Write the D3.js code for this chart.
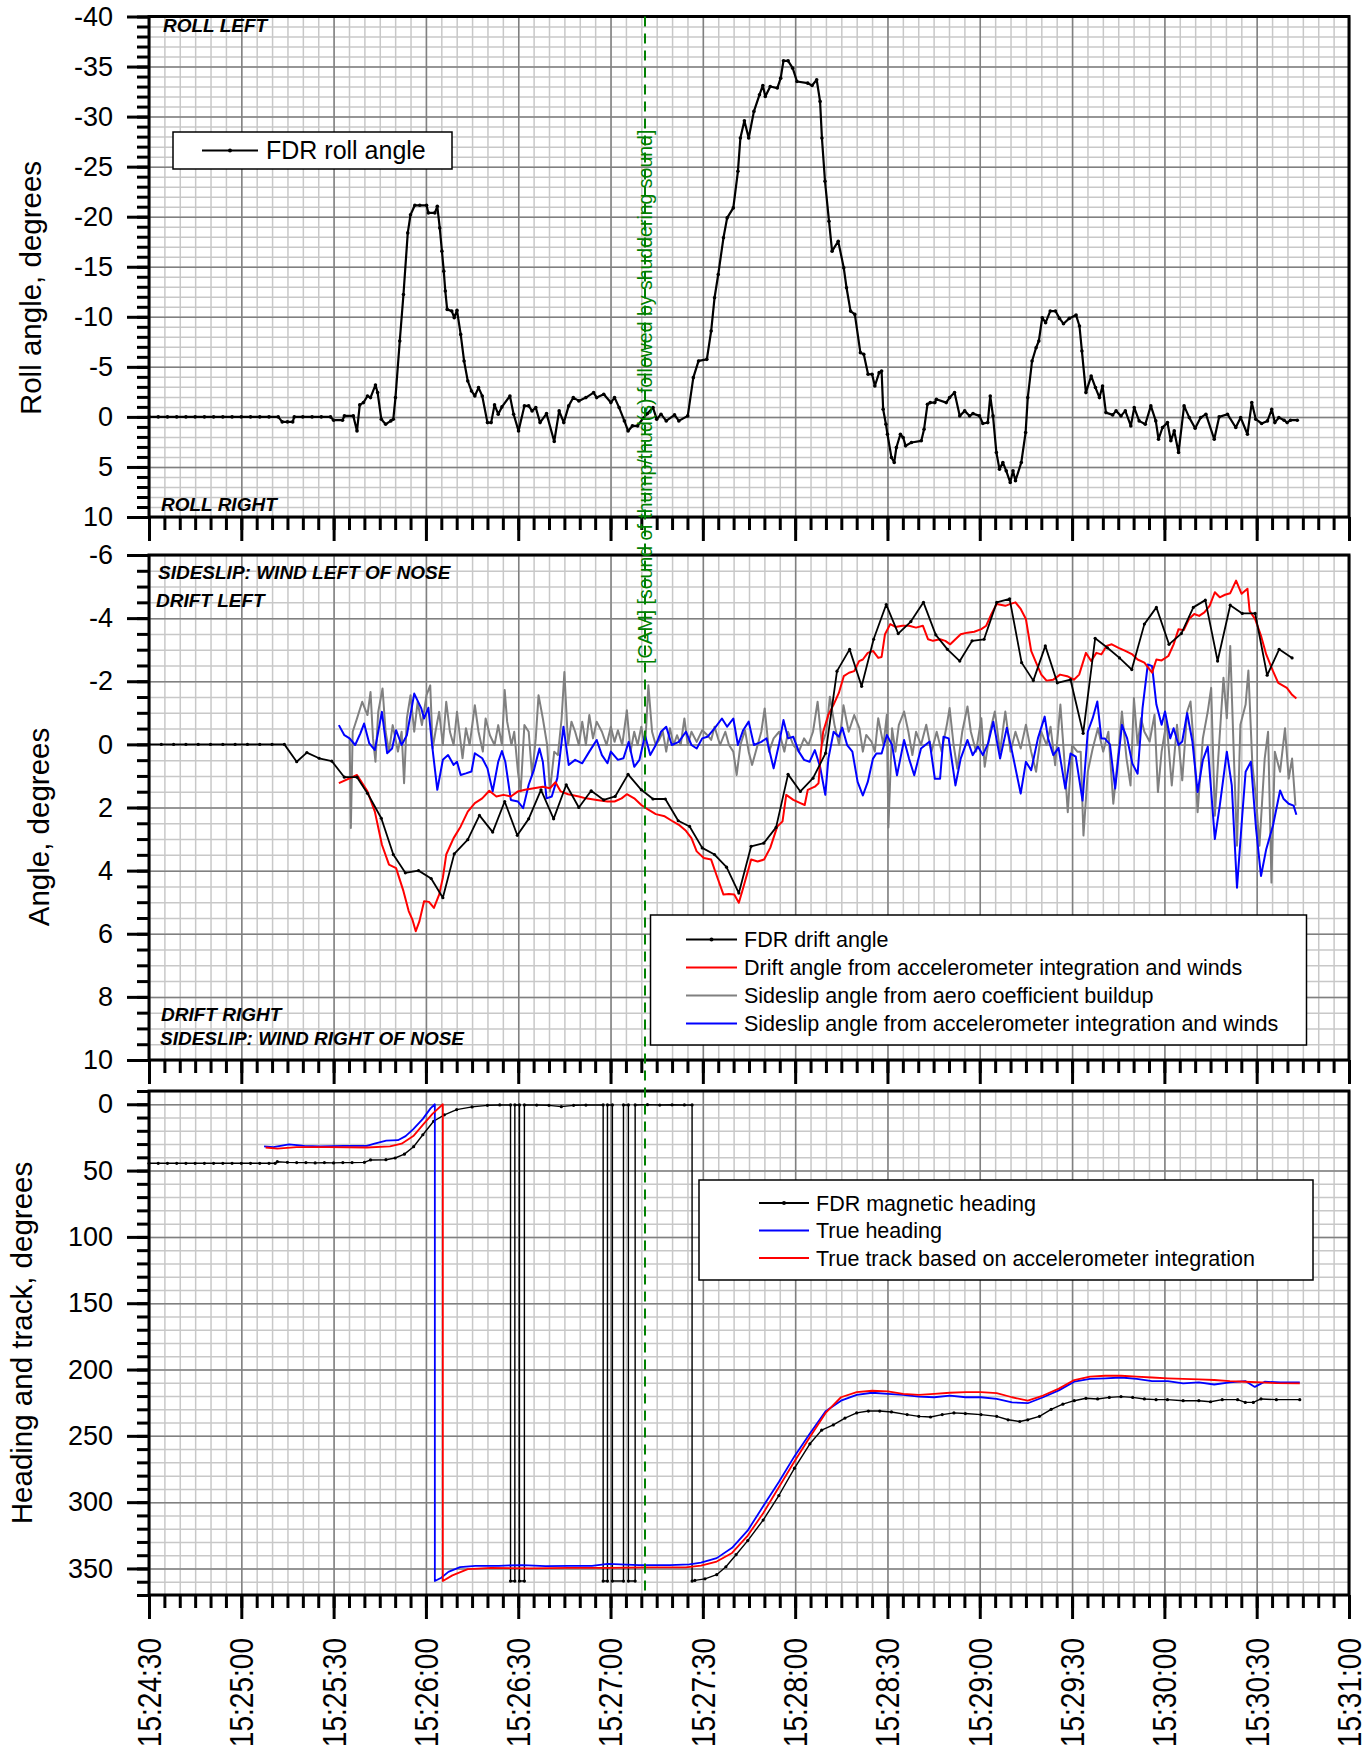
<!DOCTYPE html>
<html>
<head>
<meta charset="utf-8">
<script src="https://d3js.org/d3.v7.min.js"></script>
<style>
  body { margin: 0; background: #fff; }
  svg { display: block; font-family: "Liberation Sans", Arial, sans-serif; }
  .grid-minor line { stroke: #c8c8c8; stroke-width: 1.5px; }
  .grid-major line { stroke: #808080; stroke-width: 1.5px; }
  .grid-minor path, .grid-major path, .ticks path { display: none; }
  .ticks line { stroke: #000; stroke-width: 3px; }
  .ticks text { font-size: 27px; fill: #000; }
  .frame { fill: none; stroke: #000; stroke-width: 3px; }
  .series { fill: none; stroke-linejoin: round; }
  .note { font-size: 19px; font-weight: bold; font-style: italic; }
  .axis-title { font-size: 29.5px; text-anchor: middle; }
  .xlab { font-size: 33px; text-anchor: end; }
  .legend rect { fill: #fff; stroke: #000; stroke-width: 1.5px; }
</style>
</head>
<body>
<svg width="1369" height="1752"></svg>
<script>
// all times are seconds after 15:24:30

// FDR roll angle, degrees (negative = roll left)
var rollAngle = [[0,0],[3,0],[6,0],[9,0],[12,0],[15,0],[18,0],[21,0],[24,0],[27,0],[30,0],[33,0],[36,0],[39,0],[42,0],[43.3,0.5],[45,0.5],[46.7,0.5],[47.2,0],[50,0],[53,0],[56,0],[59,0],
  [60,0.33],[62.9,0.33],[63.5,-0.1],[66.4,-0.1],[67.6,1.4],[68.5,-1.2],[69.7,-1.43],[71,-2.09],[72,-1.93],[73.6,-3.19],[74.3,-2.43],[75.5,0.23],[76.9,0.73],[78.6,0.4],[79.4,0.23],[80.1,-1.93],[81.5,-7.58],[82.7,-12.23],[84.1,-18.38],[85,-20.2],[86.4,-21.14],[88,-21.14],[90.2,-21.14],[90.8,-20.38],[92.9,-20.38],[93.7,-21.04],[94.5,-18.88],[95.2,-16.56],[95.8,-14.56],[96.3,-12.57],[96.9,-10.74],[98.4,-10.57],[99.2,-9.91],[100.1,-10.64],[101.3,-8.24],[102.4,-5.59],[103.6,-3.59],[104.8,-2.59],[105.9,-2.09],[107.1,-2.93],[108.3,-2.09],[110,0.57],[111.2,0.57],[112.3,-1.2],[113.5,-0.27],[114.7,-1],[117.3,-2.09],[118.5,-0.27],[120.1,1.4],[122,-1.1],[123.4,-1.1],[124.5,-0.6],[125.7,-0.93],[127.1,0.57],[129.2,-0.33],[131.7,2.46],[133.3,-0.6],[134.8,0.57],[136.4,-1.1],[137.9,-1.93],[139.7,-1.6],[142,-1.93],[144.5,-2.43],[145.5,-1.93],[147.8,-2.26],[150.1,-1.43],[151.3,-1.93],[152.8,-0.93],[154.5,0.4],[155.7,1.4],[157.1,0.9],[158.8,0.9],[160.6,0.13],[162,-0.33],[163.8,-0.93],[165,0.23],[166.4,-0.27],[168.1,0.4],[170.8,-0.2],[172.2,0.4],[175.1,-0.1],[176.9,-3.92],[178.6,-5.59],[181.3,-5.75],[182.7,-8.58],[183.8,-11.9],[185,-14.23],[186.7,-17.89],[187.9,-19.88],[189.9,-20.88],[191.4,-24.53],[192.2,-27.86],[193.5,-29.59],[194.9,-27.86],[196.6,-30.52],[198.4,-32.18],[199.5,-33.11],[200.3,-32.01],[201.9,-33.01],[204.2,-32.85],[205.3,-33.84],[206.2,-35.57],[207.7,-35.57],[209.2,-34.84],[210.6,-33.51],[214.1,-33.34],[215.5,-33.11],[217,-33.68],[218.1,-31.52],[218.7,-27.86],[219.7,-23.54],[221,-19.55],[222,-16.56],[224,-17.55],[225.8,-14.89],[226.7,-12.9],[228,-10.57],[229.4,-10.24],[231.2,-6.42],[232.3,-6.25],[233.7,-4.26],[235,-4.26],[235.9,-3.09],[237.3,-4.42],[238.1,-4.59],[238.6,-0.76],[239.5,0.73],[240,1.73],[241.3,4.06],[242.2,4.55],[242.9,3.06],[244.2,1.73],[245.1,2.06],[245.9,2.89],[247.8,2.56],[251,2.39],[251.9,1.23],[253,-1.26],[253.9,-1.43],[255.4,-1.43],[255.9,-1.76],[259.1,-1.43],[260.2,-1.93],[261.8,-2.43],[263.5,-0.1],[265.1,-0.6],[266.7,-0.1],[267.8,-0.33],[269.9,-0.1],[271,0.66],[272.6,0.57],[273.4,-2.09],[274.3,-0.1],[275.4,3.56],[276.4,5.22],[277.5,4.55],[278.6,5.39],[279.9,6.55],[280.8,5.39],[281.6,6.38],[283.5,4.55],[284.9,1.56],[285.6,-1.93],[287,-5.59],[288.3,-6.91],[289.2,-7.58],[290.3,-9.91],[291.4,-9.41],[292.9,-10.57],[294.6,-10.57],[295.9,-9.84],[297.2,-9.31],[299.1,-9.84],[301.3,-10.17],[302.4,-9.08],[303.2,-6.58],[304.5,-2.43],[306.2,-4.09],[307.6,-2.93],[308.9,-1.93],[309.9,-3.09],[311,-0.43],[313.2,-0.2],[314.3,-0.6],[315.9,-0.1],[317.3,-0.6],[319.1,0.9],[320.2,-0.93],[321.8,0.4],[323.8,0.73],[325.6,-1.1],[327.2,0.4],[328.1,2.23],[329.4,1.06],[331,0.57],[332.1,2.39],[333.2,1.4],[334.6,3.56],[336.4,-1.1],[338.1,0.07],[340,1.13],[341.8,0.07],[343.5,-0.27],[346.2,2.23],[347.8,0],[350.5,-0.27],[353.2,1.06],[354.8,0.07],[357,1.73],[358.4,-1.43],[359.7,0.23],[361.6,0.66],[363.5,0.4],[364.9,-0.76],[365.9,0.57],[367.2,0.07],[368.9,0.33],[369.9,0.57],[371,0.33],[373.2,0.33]];

// FDR drift angle, degrees
var fdrDrift = [[0,0],[4,0],[8,0],[12,0],[16,0],[20,0],[24,0],[28,0],[32,0],[36,0],[40,0],[44,0],[48,0.55],[51.3,0.26],[55.3,0.44],[59.4,0.53],[63.5,1.04],[67.6,1.04],[71,1.55],[75.5,2.34],[79.4,3.49],[83.3,4.07],[87.6,4],[91.7,4.25],[95.5,4.86],[99.2,3.47],[103.6,3.02],[107.4,2.25],[111.7,2.78],[115.6,1.81],[119.7,2.88],[123.4,2.36],[127.4,1.44],[131.5,2.36],[135.6,1.28],[139.7,2],[143.7,1.47],[147.8,1.76],[151.5,1.65],[155.7,0.95],[160,1.44],[163.8,1.73],[167.8,1.73],[172,2.42],[175.7,2.6],[179.8,3.28],[183.8,3.49],[187.7,3.89],[191.7,4.71],[195.7,3.23],[199.8,3.13],[203.8,2.63],[207.7,0.95],[211.7,1.49],[215.8,1.07],[219.9,0.28],[223.6,-2.32],[227.7,-3.01],[231.6,-1.84],[235.5,-3.33],[239.6,-4.43],[243.5,-3.51],[247.6,-3.89],[251.7,-4.5],[255.7,-3.47],[259.5,-3.01],[263.5,-2.64],[267.5,-3.28],[271.4,-3.33],[275.5,-4.5],[279.7,-4.61],[283.6,-2.59],[287.4,-2.02],[291.3,-3.12],[295.2,-1.95],[299.5,-2.05],[303.6,-0.35],[307.5,-3.36],[311.5,-3.06],[315.4,-2.74],[319.4,-2.37],[323.5,-3.81],[327.4,-4.34],[331.5,-3.17],[335.5,-3.51],[339.4,-4.34],[343.3,-4.57],[347.3,-2.64],[351.4,-4.41],[355.3,-4.15],[359.5,-4.15],[363.4,-2.19],[367.3,-3.01],[371.5,-2.74]];

// drift angle from accelerometer integration and winds
var accDrift = [[61.7,1.23],[67.6,0.97],[71,1.49],[73.4,2.13],[75.7,3.18],[78,3.81],[80.3,3.92],[82.7,4.65],[84.4,5.28],[85.6,5.55],[86.7,5.92],[87.9,5.6],[89.4,4.97],[91,4.99],[92.6,5.18],[94.3,4.76],[95.5,4.23],[96.6,3.49],[99,2.97],[101.3,2.6],[103.6,2.13],[105.9,1.86],[108.3,1.71],[110.6,1.47],[112.9,1.65],[115.2,1.6],[117.6,1.65],[119.9,1.49],[122.2,1.44],[125.1,1.39],[128,1.34],[130.3,1.39],[132.1,1.2],[133.8,1.49],[136.2,1.58],[139.7,1.65],[142,1.71],[145.5,1.76],[149,1.81],[151.3,1.81],[153.6,1.71],[155.3,1.58],[157.7,1.71],[160,1.92],[162.3,2.07],[164.7,2.21],[167.6,2.28],[169.9,2.42],[172.2,2.55],[174.5,2.74],[176.3,2.97],[178,3.39],[180.3,3.6],[182.7,3.65],[184.4,4.13],[186.7,4.76],[188.5,4.74],[190.2,4.76],[191.7,5.02],[193.1,4.55],[195.7,3.65],[197.8,3.71],[199.9,3.65],[201.9,3.28],[204.2,2.6],[205.9,2.44],[207.1,1.6],[209.4,1.76],[211.7,1.86],[213.1,1.92],[214.1,1.44],[216.4,1.34],[217.6,1.23],[218.3,0.3],[219.1,-0.4],[220.8,-0.94],[222.5,-1.26],[224.2,-1.63],[225.8,-2.16],[227.5,-2.27],[229.2,-2.32],[230.8,-2.64],[232,-2.69],[233.6,-2.9],[235.3,-2.96],[237,-2.74],[238.1,-2.77],[239.2,-3.49],[240.9,-3.81],[242.6,-3.72],[244.8,-3.76],[247,-3.76],[249.3,-3.7],[251.5,-3.76],[253.2,-3.33],[254.8,-3.28],[257.1,-3.33],[258.8,-3.28],[260.4,-3.17],[262.1,-3.33],[263.8,-3.49],[266,-3.54],[268.2,-3.57],[270.5,-3.65],[272.1,-3.76],[273.8,-4.13],[275.5,-4.45],[278.3,-4.39],[280,-4.45],[281.6,-4.5],[283.3,-4.29],[285,-3.97],[286.7,-2.96],[288.3,-2.59],[290,-2.21],[291.7,-2.02],[293.9,-2.05],[296.1,-2.21],[298.4,-2.16],[300.6,-2.05],[302.3,-2.21],[304.5,-2.9],[306.2,-2.64],[307.9,-2.9],[309.5,-2.85],[311.2,-3.12],[312.9,-3.17],[315.1,-3.06],[317.3,-2.96],[319.6,-2.85],[321.3,-2.69],[323.5,-2.59],[326,-2.27],[327.4,-2.69],[329.1,-2.66],[331.3,-2.8],[333,-3.17],[334.6,-3.65],[336.3,-3.62],[338,-3.97],[339.7,-4.13],[341.3,-4.07],[343,-4.18],[344.7,-4.39],[346.4,-4.82],[348,-4.66],[349.7,-4.74],[351.4,-4.79],[353.3,-5.19],[355.1,-4.77],[357,-4.93],[357.7,-4.23],[359.5,-3.97],[361.4,-3.44],[363.1,-2.85],[365.3,-2.32],[367,-1.95],[369.8,-1.79],[371.5,-1.57],[372.9,-1.45]];

// sideslip angle from aero coefficient buildup
var aeroSlip = [[65.2,-0.19],[65.6,2.65],[66.2,-0.4],[67.6,-0.82],[69.3,-1.35],[71,-0.93],[72,-1.66],[72.8,-0.19],[73.6,0.55],[74.5,-1.03],[75.9,-1.77],[76.9,-0.4],[78,0.23],[79.2,-0.61],[80.9,0.23],[82.1,-0.4],[82.9,1.23],[83.8,-0.82],[85,-1.56],[86.2,-0.4],[87.3,-1.35],[88.7,-0.61],[90.2,-1.56],[91.4,-1.87],[92.2,0.13],[93.1,-0.4],[94.3,-1.03],[95.5,0.02],[96.6,-1.35],[97.8,-0.4],[99,0.02],[100.1,-1.03],[101.9,0.44],[103,-0.51],[104.2,0.02],[105.9,-1.24],[107.1,-0.4],[108.5,0.23],[109.4,-0.82],[110.8,-0.29],[112.3,0.02],[113.5,-0.61],[114.7,0.02],[115.6,-1.72],[116.4,-0.72],[117.8,0.02],[118.7,-0.4],[119.9,0.86],[120.8,1.49],[122,-0.61],[123.4,-0.4],[124.5,0.97],[125.7,-0.19],[126.6,-1.56],[128,-0.82],[129.4,0.02],[130.3,1.49],[131.7,0.23],[132.9,0.34],[134.1,-0.82],[135,-2.29],[136.2,0.02],[137.3,-0.72],[138.5,-0.4],[139.7,0.02],[140.8,-0.72],[142,0.02],[143.1,-0.93],[144.3,-0.19],[145.5,-0.72],[147.2,-0.4],[148.7,0.02],[150.1,-0.56],[151.3,-0.08],[152.4,-0.45],[153.8,0.02],[155.3,-1.08],[156.5,0.23],[157.7,-0.4],[158.8,0.02],[160,-0.56],[161.2,0.13],[162.3,-1.87],[163.5,-0.4],[164.7,0.02],[165.8,-0.14],[167,-0.4],[168.1,0.23],[169.3,-0.51],[170.5,0.02],[171.6,-0.29],[172.8,0.02],[174,-0.82],[175.1,0.02],[176.3,-0.4],[178,-0.08],[179.8,-0.45],[181.5,-0.29],[182.7,-0.14],[183.8,-0.56],[185.6,0.02],[187.3,-0.4],[188.5,0.02],[189.9,0.23],[191,0.97],[192.2,0.02],[193.7,-0.45],[194.9,0.23],[196,0.65],[197.8,0.02],[199,-0.4],[200.1,-1.14],[201.5,0.23],[203,-0.19],[204.8,-0.4],[206.5,0.23],[207.7,-0.4],[209.4,0.02],[211.2,0.23],[212.9,-0.19],[214.3,0.02],[215.8,-0.4],[217.3,-1.35],[218.7,0.02],[220.1,-0.4],[221.3,-1.51],[222.8,-0.61],[224.3,0.02],[225.7,-1.24],[227.4,-0.4],[229.2,-0.93],[230.9,-0.51],[232,0.23],[233.1,-0.3],[234.8,-0.09],[235.9,0.23],[237,-0.83],[238.7,0.02],[239.8,-0.94],[240.3,2.63],[241.5,-0.51],[242.6,0.23],[243.7,-0.62],[245.4,-1.04],[246.8,-0.4],[248.1,0.34],[249.3,-0.4],[250.9,0.02],[252.6,-0.62],[254.3,0.23],[256,-0.4],[257.6,0.23],[259.3,-0.62],[260.2,-1.15],[261.5,0.02],[262.7,0.77],[264.3,-0.4],[266,-1.2],[267.1,-0.4],[268.8,0.23],[270.5,-0.83],[271.6,0.71],[273.3,-0.4],[274.9,-1.04],[276.6,0.23],[278.3,-1.04],[280,0.23],[281.6,-0.4],[283.3,0.13],[285,-0.62],[286.7,0.23],[288.3,0.87],[290,-0.4],[291.7,0.02],[293,-0.56],[294.5,0.66],[296.2,-1.26],[297.3,0.23],[298.6,2.15],[300,0.02],[301.7,0.23],[302.8,0.23],[303.7,2.89],[305.1,0.87],[306.7,0.13],[308.4,-0.51],[310.1,0.23],[311.8,-0.4],[313.4,1.88],[315.1,0.23],[316.2,-1.04],[317.7,0.45],[319,1.3],[320.1,-1.47],[321.3,0.02],[322.4,-0.83],[323.5,-0.4],[325.2,-0.09],[326.8,-0.94],[327.9,1.51],[329.1,0.23],[330.7,-0.72],[332.4,1.3],[334.1,-0.62],[335.8,1.14],[337.4,-1.04],[338.5,-1.36],[339.7,0.23],[340.8,2.15],[342.5,-0.19],[344.1,-1.04],[345.2,-1.79],[346.4,2.26],[347.5,0.45],[349.2,-2.11],[350.3,-0.83],[351.4,-3.12],[352.5,0.13],[353.6,3.21],[354.7,-0.62],[356.4,-1.26],[357.3,-2.34],[358.6,0.66],[359.8,1.72],[360.9,3.21],[362.6,0.45],[363.7,-0.4],[364.8,4.38],[365.9,0.23],[367.6,0.87],[369.2,-0.51],[370.4,1.09],[371.5,0.45],[372.6,1.94]];

// sideslip angle from accelerometer integration and winds
var accSlip = [[61.7,-0.61],[63.5,-0.29],[65.2,-0.19],[67,0.02],[68.7,-0.35],[69.9,-0.66],[71.6,-0.03],[73.4,0.18],[75.7,-1.03],[77.4,0.28],[79,0.13],[80.3,-0.45],[82.1,0.02],[83.8,-0.29],[86.2,-1.61],[88.5,-1.14],[89.4,-0.82],[90.8,-1.16],[92,0.02],[93.7,1.44],[95.5,0.49],[97.2,0.34],[99,0.65],[100.1,0.55],[101.3,0.97],[103,0.92],[104.8,0.86],[105.9,0.28],[108.3,0.44],[110,0.76],[111.7,1.49],[113.5,0.55],[114.7,0.21],[115.8,0.55],[117.6,1.76],[119.9,1.81],[121.6,2.02],[123.4,1.28],[125.1,0.81],[126.9,0.13],[128,0.55],[129.2,1.71],[130.9,1.65],[132.7,1.07],[134.7,-0.56],[136.4,0.65],[138.5,0.49],[140.8,0.6],[143.1,0.23],[145.5,-0.14],[147.2,0.34],[149,0.6],[150.1,0.23],[152.4,0.49],[154.2,0.44],[155.9,-0.08],[157.7,0.71],[159.4,0.49],[161.2,-0.29],[162.9,0.34],[164.7,0.02],[166.4,-0.4],[168.1,-0.56],[169.9,0.02],[172.2,-0.08],[174.5,-0.4],[176.3,0.02],[178,0.13],[179.8,-0.19],[181.5,-0.24],[183.8,-0.51],[186.2,-0.82],[187.9,-0.56],[189.9,-0.82],[191.4,0.02],[193.1,-0.45],[194.9,-0.72],[196.6,0.02],[199,-0.08],[200.7,-0.19],[203,0.76],[204.8,-0.03],[206.2,-0.77],[207.7,-0.19],[209.4,-0.24],[211.2,0.23],[212.9,0.49],[214.7,0.55],[216.4,0.18],[218.1,0.71],[219.8,1.6],[220.8,0.45],[222.5,-0.4],[224.2,-0.24],[225.3,-0.53],[226.9,0.02],[228.6,0.23],[230.3,1.19],[232,1.62],[233.6,1.19],[235.3,0.45],[236.4,0.29],[238.1,0.29],[239.8,-0.3],[241.5,0.02],[243.1,0.98],[245.4,-0.14],[247,0.45],[248.7,0.98],[250.9,0.13],[253.7,-0.09],[255.4,1.09],[257.1,1.09],[258.2,-0.24],[259.9,-0.19],[262.1,1.3],[263.8,0.45],[266,-0.14],[267.7,0.34],[269.4,0.07],[271,0.34],[272.7,-0.03],[274.4,-0.72],[276.6,0.45],[278.8,-0.53],[280.5,0.23],[283.3,1.56],[285,0.55],[286.7,0.82],[288.9,-0.19],[291.1,-0.88],[292.2,-0.19],[293.9,0.34],[295.6,0.11],[297.8,1.4],[299.5,0.29],[301.2,0.39],[303.4,1.78],[305.1,-0.4],[306.7,-0.83],[308.2,-1.36],[309.5,-0.19],[310.6,-0.19],[312.3,0],[314,1.4],[316.2,-0.62],[317.9,-0.19],[319.6,0.61],[321.3,0.93],[322.9,-1.15],[324.6,-2.53],[326,-2.48],[327.4,-1.26],[329.1,-0.62],[330.2,-1.04],[331.9,-0.19],[333,-0.51],[334.6,0.02],[335.8,-0.09],[337.4,-0.99],[339.1,-0.09],[340.8,1.51],[342.5,0.5],[344.1,0.07],[346.4,3],[348,1.94],[350.3,0.23],[351.9,1.3],[353.6,4.54],[355.3,2.26],[356.4,0.87],[358.1,0.55],[359.8,2.68],[361.4,4.17],[363.1,3.32],[365.3,2.57],[367.6,1.46],[368.7,1.72],[370.4,1.88],[372,1.94],[372.9,2.23]];

// FDR magnetic heading, degrees (wraps between 0 and 360)
var magHeading = [[0,44.5],[3,44.5],[6,44.5],[9,44.5],[12,44.5],[15,44.5],[18,44.5],[21,44.5],[24,44.5],[27,44.5],[30,44.5],[33,44.5],[36,44.5],[39,44.5],[41,44.5],[41.7,43.3],[45,43.8],[48,44],[51,44],[54,44.2],[57,44],[60,44.2],[63,44],[66,44],[70,43.8],[72,42],[77,41.8],[80,40.5],[83,37.6],[86,32],[89,23],[92.5,12.8],[96,8],[100,4],[105,2],[110,0.8],[114,0.5],
  [117.5,0.5],[117.5,359.5],[118.9,359.5],[118.9,0.5],[120.4,0.5],[120.4,359.5],[122,359.5],[122,0.5],[126,0.6],[130,0.8],[134,1.8],[138,0.8],[142,0.6],
  [147.6,0.5],[147.6,359.5],[149,359.5],[149,0.5],[150.6,0.5],[150.6,359.5],[154.2,359.5],[154.2,0.5],[155.8,0.5],[155.8,359.5],[158,359.5],[158,0.5],[162,0.3],[166,0.6],[170,0.4],[174,0.5],[176.5,0.5],
  [176.5,359.5],[177.4,359],[180.7,357.8],[184.5,354.7],[187.5,348.7],[190.8,339.6],[194.6,329],[199.6,313.5],[204.7,295],[209.8,274.4],[214.8,256],[218.6,245.7],[222.4,241.8],[226.2,236.6],[230,232.7],[233.8,231.3],[237.5,231.3],[241.3,232],[246.4,234],[250.2,235.3],[254,235.8],[257.8,234],[261.6,232.7],[265.3,233.2],[270.4,234],[275.5,235.3],[279.2,237.9],[283,239.2],[285.6,237.9],[289.4,235.3],[293.2,230],[297,226.1],[300.7,223.5],[304.5,221.7],[308.3,222.2],[312.1,221],[315.9,220.4],[319.7,221],[323.5,222.2],[327.3,222.7],[331,222.7],[336.1,223.5],[341.2,223.5],[345,224.3],[348.8,222.7],[353.8,222.7],[356.3,224.8],[358.9,224.8],[361.4,222.2],[366.4,222.7],[374,222.7]];

// true heading
var trueHeading = [[37.4,31.8],[40.4,32.3],[45.5,30.3],[50.5,31.3],[55.6,31.8],[63.2,31.3],[70.8,31.3],[73.3,29.7],[77.1,27.4],[80.9,27.1],[83.4,24],[85.9,18.8],[89,11],[91.5,3.1],[92.9,0],[92.9,359.5],[95,357],[97.3,352.6],[101.1,349],[106.1,348],[113.7,348],[121.3,347.4],[128.9,348.2],[136.5,348],[144,348],[149.1,346.6],[159.2,347.4],[169.3,347.4],[175.6,346.9],[179.4,345.6],[184.5,342.2],[189.5,334.4],[194.6,321.3],[199.6,303.1],[204.7,284.8],[209.8,265.3],[214.8,248.3],[219.9,231.4],[224.9,223.5],[230,219.1],[235,217.5],[240.1,218.3],[245.1,219.1],[250.2,220.4],[255.2,220.9],[260.3,219.6],[265.4,220.9],[270.4,220.9],[275.5,222.2],[280.5,224.8],[285.6,225.4],[290.6,220.9],[295.7,215.7],[300.7,209.2],[305.8,207.1],[310.8,206.6],[315.9,206],[321,207.1],[326,208.7],[331.1,208.7],[336.1,210.5],[341.2,209.7],[346.2,211.3],[351.3,209.7],[356.3,208.7],[359.4,213.1],[362.6,209.2],[367.7,209.7],[374,209.7]];

// true track based on accelerometer integration
var trueTrack = [[37.9,32.6],[41.7,33.4],[48,32.3],[58.1,32.3],[70.8,32.6],[78.3,31.8],[82.1,29.7],[85.9,24],[89,15.6],[92.2,7],[95.5,0],[95.5,359.5],[98.6,355.2],[103.6,350.5],[111.2,349.5],[123.8,350],[136.5,349.5],[149.1,349.5],[161.7,349.2],[174.4,349.2],[179.4,347.9],[184.5,344.8],[189.5,338.3],[194.6,325.2],[199.6,308.3],[204.7,288.7],[209.8,269.2],[214.8,250.9],[219.9,232.7],[224.9,220.9],[230,217],[235,216],[240.1,216.5],[245.1,218.3],[250.2,219.1],[255.2,218.3],[260.3,217.5],[265.4,217],[270.4,217],[275.5,217.8],[280.5,220.9],[285.6,223.5],[290.6,219.6],[295.7,214.4],[300.7,207.9],[305.8,205.3],[310.8,204.7],[315.9,204.7],[321,205.3],[326,206],[331.1,206.6],[336.1,207.1],[341.2,207.4],[346.2,207.9],[351.3,208.7],[356.3,209.2],[361.4,209.7],[366.4,210.2],[374,210.5]];

var camTime = 161.2;
var camText = "[CAM] [sound of thump/thud(s) followed by shuddering sound]";

var svg = d3.select("svg"),
    left = 149,
    right = 1349;

var t0 = new Date(2000, 0, 1, 15, 24, 30);
function at(s) { return new Date(+t0 + s * 1000); }

var x = d3.scaleTime().domain([at(0), at(390)]).range([left, right]);

var panels = [
  {top: 16.5, bottom: 517, domain: [-40, 10], labels: d3.range(-40, 11, 5), minor: 1,
   title: "Roll angle, degrees", titleX: 31, titleY: 288},
  {top: 555, bottom: 1060, domain: [-6, 10], labels: d3.range(-6, 11, 2), minor: 0.5,
   title: "Angle, degrees", titleX: 39, titleY: 827},
  {top: 1091, bottom: 1595, domain: [-10, 370], labels: d3.range(0, 351, 50), minor: 10,
   title: "Heading and track, degrees", titleX: 22, titleY: 1343}
];

// PANELS ------------------------
panels.forEach(function(p) {
  var h = p.bottom - p.top;
  var y = p.y = d3.scaleLinear().domain(p.domain).range([p.top, p.bottom]);
  var g = p.g = svg.append("g");

  // grid
  g.append("g").attr("class", "grid-minor")
      .attr("transform", "translate(0," + p.bottom + ")")
      .call(d3.axisBottom(x).ticks(d3.timeSecond.every(5)).tickSize(-h).tickFormat(""));
  g.append("g").attr("class", "grid-minor")
      .attr("transform", "translate(" + left + ",0)")
      .call(d3.axisLeft(y).tickValues(d3.range(p.domain[0], p.domain[1] + 1e-6, p.minor))
        .tickSize(-(right - left)).tickFormat(""));
  g.append("g").attr("class", "grid-major")
      .attr("transform", "translate(0," + p.bottom + ")")
      .call(d3.axisBottom(x).ticks(d3.timeSecond.every(30)).tickSize(-h).tickFormat(""));
  g.append("g").attr("class", "grid-major")
      .attr("transform", "translate(" + left + ",0)")
      .call(d3.axisLeft(y).tickValues(p.labels).tickSize(-(right - left)).tickFormat(""));

  p.lines = g.append("g");

  // frame
  g.append("rect").attr("class", "frame")
      .attr("x", left).attr("y", p.top)
      .attr("width", right - left).attr("height", h);

  // ticks, pointing out
  g.append("g").attr("class", "ticks")
      .attr("transform", "translate(" + left + ",0)")
      .call(d3.axisLeft(y).tickValues(d3.range(p.domain[0], p.domain[1] + 1e-6, p.minor))
        .tickSize(12).tickFormat(""));
  g.append("g").attr("class", "ticks")
      .attr("transform", "translate(" + left + ",0)")
      .call(d3.axisLeft(y).tickValues(p.labels).tickSize(22).tickPadding(14)
        .tickFormat(function(d) { return String(d); }));
  g.append("g").attr("class", "ticks")
      .attr("transform", "translate(0," + p.bottom + ")")
      .call(d3.axisBottom(x).ticks(d3.timeSecond.every(5)).tickSize(13).tickFormat(""));
  g.append("g").attr("class", "ticks")
      .attr("transform", "translate(0," + p.bottom + ")")
      .call(d3.axisBottom(x).ticks(d3.timeSecond.every(30)).tickSize(24).tickFormat(""));

  // axis title
  svg.append("text").attr("class", "axis-title")
      .attr("transform", "translate(" + p.titleX + "," + p.titleY + ") rotate(-90)")
      .attr("dy", "0.35em")
      .text(p.title);
});

// x tick labels under the last panel (tall glyphs, squeezed along the text)
svg.selectAll(".xlab")
    .data(x.ticks(d3.timeSecond.every(30)))
  .enter().append("text")
    .attr("class", "xlab")
    .attr("transform", function(d) { return "translate(" + x(d) + ",1638) rotate(-90) scale(0.85,1)"; })
    .attr("dy", "0.36em")
    .text(d3.timeFormat("%H:%M:%S"));

// SERIES ------------------------
function drawSeries(p, data, color, width, dots) {
  var line = d3.line()
      .x(function(d) { return x(at(d[0])); })
      .y(function(d) { return p.y(d[1]); });
  p.lines.append("path")
      .datum(data)
      .attr("class", "series")
      .attr("stroke", color)
      .attr("stroke-width", width)
      .attr("d", line);
  if (dots) {
    p.lines.selectAll(null)
        .data(data)
      .enter().append("circle")
        .attr("cx", function(d) { return x(at(d[0])); })
        .attr("cy", function(d) { return p.y(d[1]); })
        .attr("r", dots)
        .attr("fill", color);
  }
}

drawSeries(panels[0], rollAngle, "#000", 2.2, 1.8);

drawSeries(panels[1], aeroSlip, "#808080", 2, 0);
drawSeries(panels[1], accSlip, "#0000ff", 2, 0);
drawSeries(panels[1], accDrift, "#ff0000", 2, 0);
drawSeries(panels[1], fdrDrift, "#000", 1.8, 1.6);

drawSeries(panels[2], magHeading, "#000", 1.4, 1.6);
drawSeries(panels[2], trueHeading, "#0000ff", 1.8, 0);
drawSeries(panels[2], trueTrack, "#ff0000", 1.8, 0);

// italic side notes
var notes = [
  {text: "ROLL LEFT", dx: 14, y: 32},
  {text: "ROLL RIGHT", dx: 12, y: 511},
  {text: "SIDESLIP: WIND LEFT OF NOSE", dx: 9, y: 579},
  {text: "DRIFT LEFT", dx: 7, y: 607},
  {text: "DRIFT RIGHT", dx: 12, y: 1021},
  {text: "SIDESLIP: WIND RIGHT OF NOSE", dx: 11, y: 1045}
];
svg.selectAll(".note")
    .data(notes)
  .enter().append("text")
    .attr("class", "note")
    .attr("x", function(d) { return left + d.dx; })
    .attr("y", function(d) { return d.y; })
    .text(function(d) { return d.text; });

// CAM marker across all panels
var camX = x(at(camTime));
svg.append("line")
    .attr("x1", camX).attr("x2", camX)
    .attr("y1", panels[0].top).attr("y2", panels[2].bottom)
    .attr("stroke", "#008000")
    .attr("stroke-width", 2)
    .attr("stroke-dasharray", "10,7");
svg.append("text")
    .attr("transform", "translate(" + camX + ",664) rotate(-90)")
    .attr("dy", "0.35em")
    .attr("fill", "#008000")
    .style("font-size", "19.5px")
    .text(camText);

// LEGENDS ------------------------
function legend(box, rows, size) {
  var g = svg.append("g").attr("class", "legend");
  g.append("rect").attr("x", box.x).attr("y", box.y).attr("width", box.w).attr("height", box.h);
  rows.forEach(function(r) {
    g.append("line")
        .attr("x1", box.lx0).attr("x2", box.lx1)
        .attr("y1", r.y).attr("y2", r.y)
        .attr("stroke", r.color).attr("stroke-width", 2);
    if (r.dot) {
      g.append("circle").attr("cx", (box.lx0 + box.lx1) / 2).attr("cy", r.y)
          .attr("r", 2).attr("fill", r.color);
    }
    g.append("text")
        .attr("x", box.tx).attr("y", r.y).attr("dy", "0.35em")
        .style("font-size", size + "px")
        .text(r.label);
  });
}

legend({x: 173, y: 132, w: 279, h: 37, lx0: 202, lx1: 258, tx: 266},
  [{y: 150.5, color: "#000", dot: true, label: "FDR roll angle"}], 25);

legend({x: 650.5, y: 915, w: 656, h: 130, lx0: 686, lx1: 737, tx: 744},
  [{y: 939.5, color: "#000", dot: true, label: "FDR drift angle"},
   {y: 967.5, color: "#ff0000", label: "Drift angle from accelerometer integration and winds"},
   {y: 995.5, color: "#808080", label: "Sideslip angle from aero coefficient buildup"},
   {y: 1023.5, color: "#0000ff", label: "Sideslip angle from accelerometer integration and winds"}], 21.5);

legend({x: 699, y: 1180, w: 614, h: 100, lx0: 759, lx1: 809, tx: 816},
  [{y: 1203, color: "#000", dot: true, label: "FDR magnetic heading"},
   {y: 1230.5, color: "#0000ff", label: "True heading"},
   {y: 1258, color: "#ff0000", label: "True track based on accelerometer integration"}], 21.5);
</script>
</body>
</html>
